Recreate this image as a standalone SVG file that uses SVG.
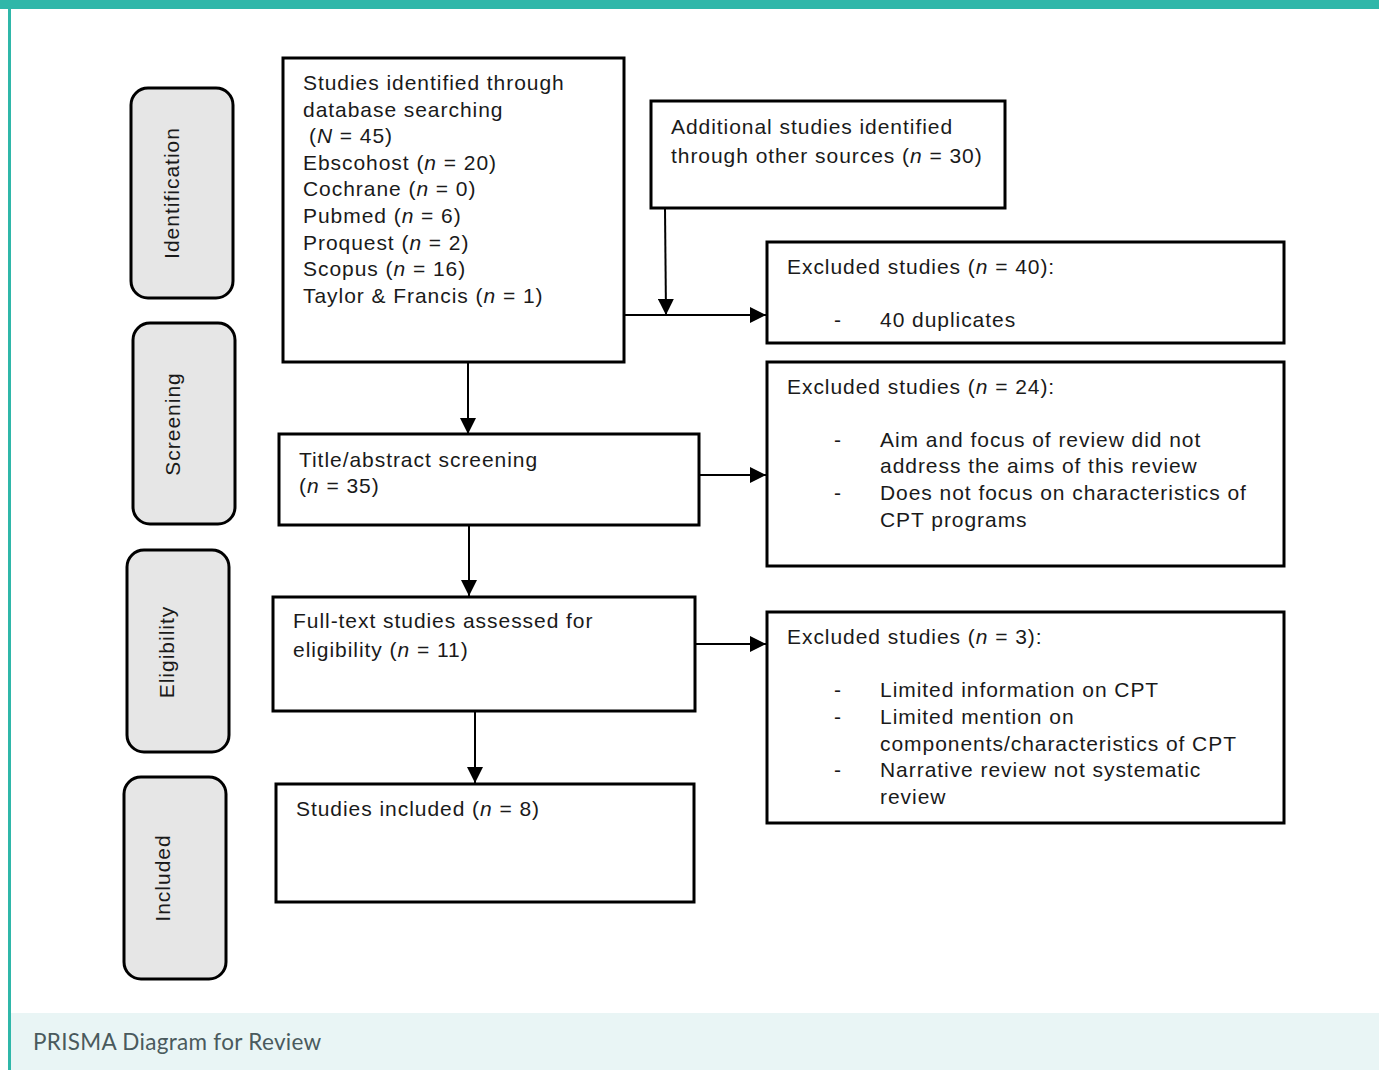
<svg xmlns="http://www.w3.org/2000/svg" width="1379" height="1070" viewBox="0 0 1379 1070">
<defs>
<marker id="arr" viewBox="0 0 16 16" refX="16" refY="8" markerWidth="16" markerHeight="16" markerUnits="userSpaceOnUse" orient="auto">
<path d="M0,0 L16,8 L0,16 Z" fill="#000"/>
</marker>
</defs>
<style>
.box{fill:#fff;stroke:#000;stroke-width:3}
.phase{fill:#e6e6e6;stroke:#000;stroke-width:3}
.t{font-family:"Liberation Sans",Arial,sans-serif;font-size:21px;letter-spacing:0.95px;fill:#1a1a1a}
.ph{font-family:"Liberation Sans",Arial,sans-serif;font-size:21px;letter-spacing:1px;fill:#1a1a1a;text-anchor:middle}
.conn{stroke:#000;stroke-width:2;fill:none}
.cap{font-family:Lato,"Open Sans",sans-serif;font-size:22.5px;letter-spacing:0.3px;fill:#4a5a5d}
</style>
<rect x="0" y="0" width="1379" height="1070" fill="#fff"/>
<rect x="10" y="1013" width="1369" height="57" fill="#e9f5f5"/>
<rect x="0" y="0" width="1379" height="9" fill="#2fb7a9"/>
<rect x="8" y="0" width="3" height="1070" fill="#2fb7a9"/>
<text class="cap" x="33" y="1050">PRISMA Diagram for Review</text>

<g id="phase-identification">
<rect class="phase" x="131" y="88" width="102" height="210" rx="17"/>
<text class="ph" transform="translate(179,193) rotate(-90)">Identification</text>
</g>
<g id="phase-screening">
<rect class="phase" x="133" y="323" width="102" height="201" rx="17"/>
<text class="ph" transform="translate(180,424) rotate(-90)">Screening</text>
</g>
<g id="phase-eligibility">
<rect class="phase" x="127" y="550" width="102" height="202" rx="17"/>
<text class="ph" transform="translate(174,652) rotate(-90)">Eligibility</text>
</g>
<g id="phase-included">
<rect class="phase" x="124" y="777" width="102" height="202" rx="17"/>
<text class="ph" transform="translate(170,878) rotate(-90)">Included</text>
</g>

<g id="connectors">
<line class="conn" x1="468" y1="362" x2="468" y2="434" marker-end="url(#arr)"/>
<line class="conn" x1="469" y1="525" x2="469" y2="596" marker-end="url(#arr)"/>
<line class="conn" x1="475" y1="711" x2="475" y2="783" marker-end="url(#arr)"/>
<line class="conn" x1="665" y1="208" x2="666" y2="315" marker-end="url(#arr)"/>
<line class="conn" x1="624" y1="315" x2="766" y2="315" marker-end="url(#arr)"/>
<line class="conn" x1="699" y1="475" x2="766" y2="475" marker-end="url(#arr)"/>
<line class="conn" x1="695" y1="644" x2="766" y2="644" marker-end="url(#arr)"/>
</g>

<g id="db-search">
<rect class="box" x="283" y="58" width="341" height="304"/>
<text class="t" x="303" y="90">Studies identified through</text>
<text class="t" x="303" y="117">database searching</text>
<text class="t" x="309" y="143">(<tspan font-style="italic">N</tspan> = 45)</text>
<text class="t" x="303" y="170">Ebscohost (<tspan font-style="italic">n</tspan> = 20)</text>
<text class="t" x="303" y="196">Cochrane (<tspan font-style="italic">n</tspan> = 0)</text>
<text class="t" x="303" y="223">Pubmed (<tspan font-style="italic">n</tspan> = 6)</text>
<text class="t" x="303" y="250">Proquest (<tspan font-style="italic">n</tspan> = 2)</text>
<text class="t" x="303" y="276">Scopus (<tspan font-style="italic">n</tspan> = 16)</text>
<text class="t" x="303" y="303">Taylor &amp; Francis (<tspan font-style="italic">n</tspan> = 1)</text>
</g>

<g id="other-sources">
<rect class="box" x="651" y="101" width="354" height="107"/>
<text class="t" x="671" y="134">Additional studies identified</text>
<text class="t" x="671" y="163">through other sources (<tspan font-style="italic">n</tspan> = 30)</text>
</g>

<g id="excluded-40">
<rect class="box" x="767" y="242" width="517" height="101"/>
<text class="t" x="787" y="274">Excluded studies (<tspan font-style="italic">n</tspan> = 40):</text>
<text class="t" x="834" y="327">-</text>
<text class="t" x="880" y="327">40 duplicates</text>
</g>

<g id="title-screening">
<rect class="box" x="279" y="434" width="420" height="91"/>
<text class="t" x="299" y="467">Title/abstract screening</text>
<text class="t" x="299" y="493">(<tspan font-style="italic">n</tspan> = 35)</text>
</g>

<g id="excluded-24">
<rect class="box" x="767" y="362" width="517" height="204"/>
<text class="t" x="787" y="394">Excluded studies (<tspan font-style="italic">n</tspan> = 24):</text>
<text class="t" x="834" y="447">-</text>
<text class="t" x="880" y="447">Aim and focus of review did not</text>
<text class="t" x="880" y="473">address the aims of this review</text>
<text class="t" x="834" y="500">-</text>
<text class="t" x="880" y="500">Does not focus on characteristics of</text>
<text class="t" x="880" y="527">CPT programs</text>
</g>

<g id="full-text">
<rect class="box" x="273" y="597" width="422" height="114"/>
<text class="t" x="293" y="628">Full-text studies assessed for</text>
<text class="t" x="293" y="657">eligibility (<tspan font-style="italic">n</tspan> = 11)</text>
</g>

<g id="excluded-3">
<rect class="box" x="767" y="612" width="517" height="211"/>
<text class="t" x="787" y="644">Excluded studies (<tspan font-style="italic">n</tspan> = 3):</text>
<text class="t" x="834" y="697">-</text>
<text class="t" x="880" y="697">Limited information on CPT</text>
<text class="t" x="834" y="724">-</text>
<text class="t" x="880" y="724">Limited mention on</text>
<text class="t" x="880" y="751">components/characteristics of CPT</text>
<text class="t" x="834" y="777">-</text>
<text class="t" x="880" y="777">Narrative review not systematic</text>
<text class="t" x="880" y="804">review</text>
</g>

<g id="included">
<rect class="box" x="276" y="784" width="418" height="118"/>
<text class="t" x="296" y="816">Studies included (<tspan font-style="italic">n</tspan> = 8)</text>
</g>
</svg>
